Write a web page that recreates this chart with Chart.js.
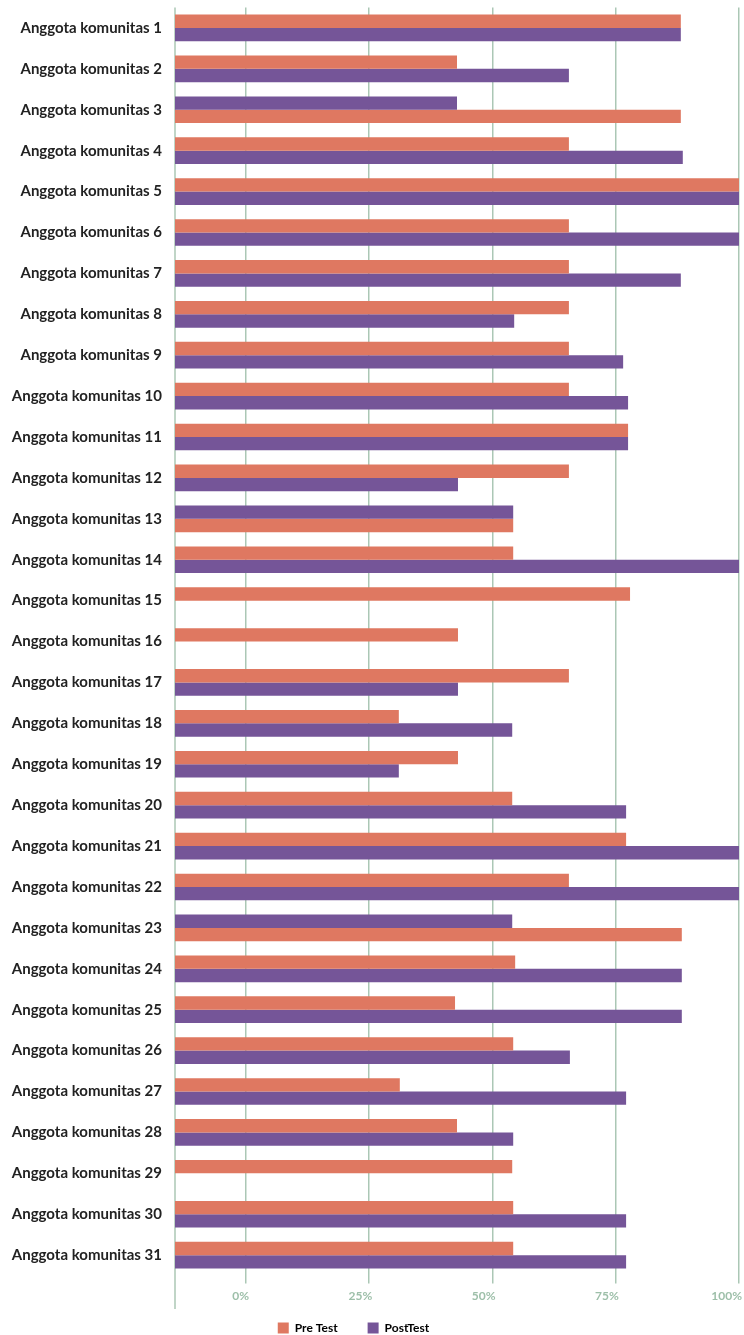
<!DOCTYPE html>
<html>
<head>
<meta charset="utf-8">
<script src="https://cdn.jsdelivr.net/npm/chart.js@4.4.1/dist/chart.umd.min.js"></script>
<style>
  html, body { margin: 0; padding: 0; background: #fff; }
  #wrap { width: 744px; height: 1335px; position: relative; }
</style>
</head>
<body>
<div id="wrap"><canvas id="skorChart"></canvas></div>
<script>
// Data
const categories = [
  'Anggota komunitas 1', 'Anggota komunitas 2', 'Anggota komunitas 3', 'Anggota komunitas 4',
  'Anggota komunitas 5', 'Anggota komunitas 6', 'Anggota komunitas 7', 'Anggota komunitas 8',
  'Anggota komunitas 9', 'Anggota komunitas 10', 'Anggota komunitas 11', 'Anggota komunitas 12',
  'Anggota komunitas 13', 'Anggota komunitas 14', 'Anggota komunitas 15', 'Anggota komunitas 16',
  'Anggota komunitas 17', 'Anggota komunitas 18', 'Anggota komunitas 19', 'Anggota komunitas 20',
  'Anggota komunitas 21', 'Anggota komunitas 22', 'Anggota komunitas 23', 'Anggota komunitas 24',
  'Anggota komunitas 25', 'Anggota komunitas 26', 'Anggota komunitas 27', 'Anggota komunitas 28',
  'Anggota komunitas 29', 'Anggota komunitas 30', 'Anggota komunitas 31'
];
const preTest = [
  88.2, 42.8, 88.2, 65.5, 100, 65.5, 65.5, 65.5, 65.5, 65.5,
  77.5, 65.5, 54.2, 54.2, 77.9, 43.0, 65.5, 31.0, 43.0, 54.0,
  77.1, 65.5, 88.4, 54.6, 42.4, 54.2, 31.2, 42.8, 54.0, 54.2, 54.2
];
const postTest = [
  88.2, 65.5, 42.8, 88.6, 100, 100, 88.2, 54.4, 76.5, 77.5,
  77.5, 43.0, 54.2, 100, null, null, 43.0, 54.0, 31.0, 77.1,
  100, 100, 54.0, 88.4, 88.4, 65.7, 77.1, 54.2, null, 77.1, 77.1
];
// rows where the PostTest bar sits above the Pre Test bar
const postOnTop = [3, 13, 23];
const seriesNames = ['Pre Test', 'PostTest'];
const tickValues = [0, 25, 50, 75, 100];
const axisMin = -14.4;

const preColor = '#df7861';
const postColor = '#755598';
const gridColor = '#abc7b5';

const upper = categories.map((c, i) => postOnTop.includes(i + 1) ? postTest[i] : preTest[i]);
const lower = categories.map((c, i) => postOnTop.includes(i + 1) ? preTest[i] : postTest[i]);
const upperColors = categories.map((c, i) => postOnTop.includes(i + 1) ? postColor : preColor);
const lowerColors = categories.map((c, i) => postOnTop.includes(i + 1) ? preColor : postColor);

// garis sumbu kiri, sedikit lebih panjang dari grid
const leftAxisLine = {
  id: 'leftAxisLine',
  beforeDatasetsDraw(chart) {
    const { ctx, chartArea } = chart;
    ctx.save();
    ctx.strokeStyle = gridColor;
    ctx.lineWidth = 1.5;
    ctx.beginPath();
    ctx.moveTo(chartArea.left, chartArea.top);
    ctx.lineTo(chartArea.left, chart.scales.x.bottom + 1);
    ctx.stroke();
    ctx.restore();
  }
};

// legenda dinaikkan supaya dekat dengan label sumbu
const legendLift = {
  id: 'legendLift',
  afterLayout(chart) {
    const lg = chart.legend;
    lg.top = chart.scales.x.bottom + 14 - lg.options.labels.padding;
    lg.height = lg.bottom - lg.top;
  }
};

const ctx = document.getElementById('skorChart').getContext('2d');
new Chart(ctx, {
  type: 'bar',
  data: {
    labels: categories,
    datasets: [
      { label: 'upper', data: upper, backgroundColor: upperColors, base: axisMin,
        barPercentage: 1, categoryPercentage: 0.652 },
      { label: 'lower', data: lower, backgroundColor: lowerColors, base: axisMin,
        barPercentage: 1, categoryPercentage: 0.652 }
    ]
  },
  options: {
    indexAxis: 'y',
    responsive: true,
    maintainAspectRatio: false,
    animation: false,
    layout: { padding: { left: -32, right: 5, top: 7, bottom: 0 } },
    scales: {
      x: {
        min: axisMin,
        max: 100,
        ticks: {
          stepSize: 25,
          align: 'end',
          labelOffset: 3,
          padding: 5,
          color: '#9dbfa9',
          font: { family: 'Lato', size: 12, weight: 'bold' },
          callback: (v) => v + '%'
        },
        afterBuildTicks: (scale) => {
          scale.ticks = scale.ticks.filter(t => tickValues.includes(t.value));
        },
        grid: { color: gridColor, lineWidth: 1.5, tickLength: 8, tickColor: gridColor },
        border: { display: false }
      },
      y: {
        afterFit: (scale) => { scale.width = 207; },
        grid: { display: false, drawTicks: true, tickLength: 13 },
        border: { display: false },
        ticks: {
          padding: 0,
          color: '#222',
          font: { family: 'Lato', size: 15, weight: 'bold', lineHeight: 1 }
        }
      }
    },
    plugins: {
      legend: {
        position: 'bottom',
        maxHeight: 27,
        onClick: null,
        labels: {
          boxWidth: 11,
          boxHeight: 11,
          padding: 30,
          color: '#333',
          font: { family: 'Lato', size: 12, weight: 'bold' },
          generateLabels: () => [
            { text: seriesNames[0], fillStyle: preColor, strokeStyle: preColor, lineWidth: 0, hidden: false, datasetIndex: 0 },
            { text: seriesNames[1], fillStyle: postColor, strokeStyle: postColor, lineWidth: 0, hidden: false, datasetIndex: 1 }
          ]
        }
      },
      tooltip: { enabled: false }
    }
  },
  plugins: [leftAxisLine, legendLift]
});
</script>
</body>
</html>
